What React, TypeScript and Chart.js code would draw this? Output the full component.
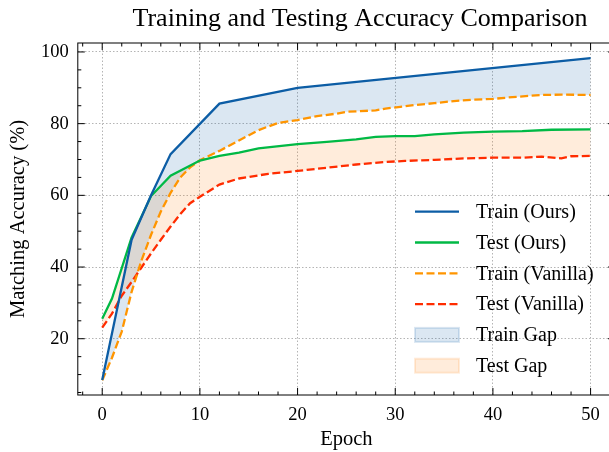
import React, { useEffect, useRef } from 'react';
import { Chart, registerables } from 'chart.js';

Chart.register(...registerables);

// ---- data ----
const trainOursEpochs = [0, 3, 5, 7, 12, 20, 50];
const trainOursAcc = [8.5, 47.5, 60, 71.5, 85.6, 90, 98.3];

const testOursEpochs = [0, 1, 3, 5, 7, 10, 12, 14, 16, 20, 23, 26, 28, 30, 32, 34, 37, 40, 43, 46, 50];
const testOursAcc = [25.6, 31.2, 48.2, 59.8, 65.5, 69.7, 71.0, 71.9, 73.1, 74.3, 74.9, 75.6, 76.3, 76.5, 76.5, 77.0, 77.5, 77.8, 77.9, 78.3, 78.4];

const trainVanillaEpochs = [0, 1, 2, 3, 4, 5, 6, 7, 8, 9, 10, 12, 14, 16, 18, 20, 22, 24, 25, 28, 29, 32, 34, 36, 38, 40, 42, 45, 47, 50];
const trainVanillaAcc = [8.4, 14.7, 22, 33, 41.7, 49, 55.5, 60.7, 65, 67.8, 69.8, 72.4, 75.3, 78.2, 80.2, 81.0, 82.1, 82.8, 83.3, 83.7, 84.2, 85.2, 85.7, 86.3, 86.7, 86.9, 87.4, 88.0, 88.1, 88.0];

const testVanillaEpochs = [0, 1, 2, 3, 4, 5, 6, 7, 8, 9, 10, 12, 14, 17, 20, 23, 26, 29, 31, 34, 37, 40, 43, 45, 47, 48, 50];
const testVanillaAcc = [23.1, 27, 32, 35.8, 39.8, 43.8, 47.6, 51.3, 54.8, 57.8, 59.6, 63.0, 64.7, 66.0, 66.8, 67.7, 68.6, 69.3, 69.6, 69.9, 70.3, 70.5, 70.5, 70.8, 70.3, 70.9, 71.0];

const xTickValues = [0, 10, 20, 30, 40, 50];
const xMinorValues = [-2, 2, 4, 6, 8, 12, 14, 16, 18, 22, 24, 26, 28, 32, 34, 36, 38, 42, 44, 46, 48, 52];
const yTickValues = [20, 40, 60, 80, 100];
const yMinorValues = [5, 10, 15, 25, 30, 35, 45, 50, 55, 65, 70, 75, 85, 90, 95];

const seriesLabels = ['Train (Ours)', 'Test (Ours)', 'Train (Vanilla)', 'Test (Vanilla)'];
const gapLabels = ['Train Gap', 'Test Gap'];

const TITLE = 'Training and Testing Accuracy Comparison';
const X_TITLE = 'Epoch';
const Y_TITLE = 'Matching Accuracy (%)';

// ---- styles ----
const SERIF = '"Liberation Serif", "Times New Roman", "DejaVu Serif", serif';
const BLUE = '#0C5DA5';
const GREEN = '#00B945';
const ORANGE = '#FF9500';
const RED = '#FF2C00';
const TRAIN_GAP = 'rgba(12, 93, 165, 0.15)';
const TEST_GAP = 'rgba(255, 127, 14, 0.15)';
const DASH = [8, 3.5];
const LW = 2.3;

const toPoints = (xs: number[], ys: number[]) => xs.map((x, i) => ({ x, y: ys[i] }));

const axesDecor = {
  id: 'axesDecor',
  afterDatasetsDraw(chart: any) {
    const { ctx, chartArea: a, scales } = chart;
    const xs = scales.x;
    const ys = scales.y;
    ctx.save();
    ctx.strokeStyle = '#000';
    ctx.lineWidth = 1;
    ctx.setLineDash([]);
    ctx.strokeRect(a.left, a.top, a.right - a.left, a.bottom - a.top);
    const vt = (v: number, len: number) => {
      const p = xs.getPixelForValue(v);
      ctx.beginPath();
      ctx.moveTo(p, a.bottom);
      ctx.lineTo(p, a.bottom - len);
      ctx.moveTo(p, a.top);
      ctx.lineTo(p, a.top + len);
      ctx.stroke();
    };
    const ht = (v: number, len: number) => {
      const p = ys.getPixelForValue(v);
      ctx.beginPath();
      ctx.moveTo(a.left, p);
      ctx.lineTo(a.left + len, p);
      ctx.moveTo(a.right, p);
      ctx.lineTo(a.right - len, p);
      ctx.stroke();
    };
    xTickValues.forEach((v) => vt(v, 7));
    xMinorValues.forEach((v) => vt(v, 3.5));
    yTickValues.forEach((v) => ht(v, 7));
    yMinorValues.forEach((v) => ht(v, 3.5));
    ctx.restore();
  },
  afterDraw(chart: any) {
    const { ctx } = chart;
    ctx.save();
    // title, centred where the reference places it
    ctx.font = `26px ${SERIF}`;
    ctx.fillStyle = '#000';
    ctx.textAlign = 'center';
    ctx.textBaseline = 'middle';
    ctx.fillText(TITLE, 360, 19);

    // legend
    const x0 = 415;
    const x1 = 459;
    const tx = 476;
    const y0 = 211.7;
    const dy = 30.8;
    const lineColors = [BLUE, GREEN, ORANGE, RED];
    const lineDashes = [[], [], DASH, DASH];
    ctx.font = `20px ${SERIF}`;
    ctx.textBaseline = 'middle';
    ctx.textAlign = 'left';
    seriesLabels.forEach((label, i) => {
      const y = y0 + i * dy;
      ctx.strokeStyle = lineColors[i];
      ctx.lineWidth = LW;
      ctx.setLineDash(lineDashes[i]);
      ctx.beginPath();
      ctx.moveTo(x0, y);
      ctx.lineTo(x1, y);
      ctx.stroke();
      ctx.setLineDash([]);
      ctx.fillStyle = '#000';
      ctx.fillText(label, tx, y + 1);
    });
    const gapColors = [TRAIN_GAP, TEST_GAP];
    gapLabels.forEach((label, i) => {
      const y = y0 + (4 + i) * dy;
      ctx.fillStyle = gapColors[i];
      ctx.fillRect(x0, y - 7, x1 - x0, 14);
      ctx.strokeStyle = gapColors[i];
      ctx.lineWidth = 2;
      ctx.strokeRect(x0, y - 7, x1 - x0, 14);
      ctx.fillStyle = '#000';
      ctx.fillText(label, tx, y + 1);
    });
    ctx.restore();
  },
};

export default function App() {
  const ref = useRef<HTMLCanvasElement | null>(null);

  useEffect(() => {
    if (!ref.current) return;
    const tickFont = { family: SERIF, size: 18.5 };
    const labelFont = { family: SERIF, size: 20.5 };
    const chart = new Chart(ref.current, {
      type: 'line',
      data: {
        datasets: [
          {
            label: seriesLabels[0],
            data: toPoints(trainOursEpochs, trainOursAcc),
            borderColor: BLUE,
            borderWidth: LW,
            pointRadius: 0,
            fill: false,
            tension: 0,
          },
          {
            label: seriesLabels[1],
            data: toPoints(testOursEpochs, testOursAcc),
            borderColor: GREEN,
            borderWidth: LW,
            pointRadius: 0,
            fill: false,
            tension: 0,
          },
          {
            label: seriesLabels[2],
            data: toPoints(trainVanillaEpochs, trainVanillaAcc),
            borderColor: ORANGE,
            borderWidth: LW,
            borderDash: DASH,
            pointRadius: 0,
            backgroundColor: TRAIN_GAP,
            fill: { target: 0 },
            tension: 0,
          },
          {
            label: seriesLabels[3],
            data: toPoints(testVanillaEpochs, testVanillaAcc),
            borderColor: RED,
            borderWidth: LW,
            borderDash: DASH,
            pointRadius: 0,
            backgroundColor: TEST_GAP,
            fill: { target: 1 },
            tension: 0,
          },
        ],
      },
      options: {
        responsive: false,
        animation: false,
        devicePixelRatio: 1,
        layout: { padding: { left: 0, right: 1, top: 43, bottom: 0 } },
        plugins: {
          legend: { display: false },
          tooltip: { enabled: false },
          filler: { drawTime: 'beforeDatasetsDraw' },
          title: { display: false },
        },
        scales: {
          x: {
            type: 'linear',
            min: -2.5,
            max: 52.5,
            afterBuildTicks: (s: any) => {
              s.ticks = xTickValues.map((v) => ({ value: v }));
            },
            afterFit: (s: any) => {
              s.height = 57;
            },
            grid: { color: '#b4b4b4', lineWidth: 1, drawTicks: false },
            border: { display: false, dash: [1.5, 2] },
            ticks: { color: '#000', font: tickFont, padding: 9, maxRotation: 0, autoSkip: false },
            title: { display: true, text: X_TITLE, color: '#000', font: labelFont, padding: 0 },
          },
          y: {
            type: 'linear',
            min: 4.3,
            max: 102.5,
            afterBuildTicks: (s: any) => {
              s.ticks = yTickValues.map((v) => ({ value: v }));
            },
            afterFit: (s: any) => {
              s.width = 77.8;
            },
            grid: { color: '#b4b4b4', lineWidth: 1, drawTicks: false },
            border: { display: false, dash: [1.5, 2] },
            ticks: { color: '#000', font: tickFont, padding: 9, autoSkip: false },
            title: { display: true, text: Y_TITLE, color: '#000', font: labelFont, padding: { top: 6, bottom: 0 } },
          },
        },
      },
      plugins: [axesDecor],
    } as any);
    return () => chart.destroy();
  }, []);

  return (
    <div
      style={{
        position: 'fixed',
        left: 0,
        top: 0,
        width: 609,
        height: 452,
        overflow: 'hidden',
        background: '#fff',
      }}
    >
      <canvas ref={ref} width={616} height={452} style={{ display: 'block', width: 616, height: 452 }} />
    </div>
  );
}
